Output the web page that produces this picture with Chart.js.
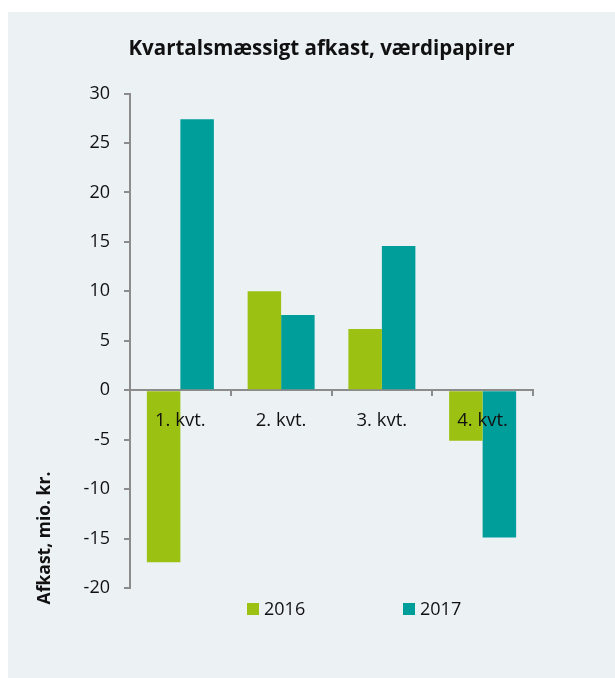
<!DOCTYPE html>
<html>
<head>
<meta charset="utf-8">
<script src="https://cdn.jsdelivr.net/npm/chart.js@4"></script>
<style>
    body { margin: 0; background: #ffffff; }
    #panel { position: absolute; left: 8px; top: 12px; width: 607px; height: 666px; background: #ecf1f4; }
</style>
</head>
<body>
<div id="panel"><canvas id="grafico" width="607" height="666"></canvas></div>
<script>
const kvartaler = ['1. kvt.', '2. kvt.', '3. kvt.', '4. kvt.'];
const afkast2016 = [-17.4, 10.0, 6.2, -5.1];
const afkast2017 = [27.4, 7.6, 14.6, -14.9];
const aar = ['2016', '2017'];

const gron = '#9bc112';
const turkis = '#009e9a';
const graa = '#8c8c8c';
const skrift = '"Open Sans"';

// y-aksens titel og forklaring tegnes selv, saa de kan placeres som i originalen
const ekstraTekst = {
    id: 'ekstraTekst',
    afterDraw(chart) {
        const ctx = chart.ctx;
        const area = chart.chartArea;
        ctx.save();
        ctx.fillStyle = '#111';
        ctx.font = 'bold 17.5px ' + skrift;
        ctx.textAlign = 'center';
        ctx.textBaseline = 'middle';
        ctx.translate(37, area.bottom - 50);
        ctx.rotate(-Math.PI / 2);
        ctx.fillText('Afkast, mio. kr.', 0, 0);
        ctx.restore();

        ctx.save();
        ctx.font = '18px ' + skrift;
        ctx.textBaseline = 'middle';
        const y = area.bottom + 21;
        chart.data.datasets.forEach((ds, i) => {
            const x = area.left + 117 + i * 156;
            ctx.fillStyle = ds.backgroundColor;
            ctx.fillRect(x, y - 6, 12, 12);
            ctx.fillStyle = '#111';
            ctx.fillText(ds.label, x + 17, y + 1);
        });
        ctx.restore();
    }
};

new Chart(document.getElementById('grafico').getContext('2d'), {
    type: 'bar',
    data: {
        labels: kvartaler,
        datasets: [{
            label: aar[0],
            data: afkast2016,
            backgroundColor: gron,
            categoryPercentage: 0.665,
            barPercentage: 1
        },
        {
            label: aar[1],
            data: afkast2017,
            backgroundColor: turkis,
            categoryPercentage: 0.665,
            barPercentage: 1
        }]
    },
    plugins: [ekstraTekst],
    options: {
        responsive: false,
        animation: false,
        layout: {
            padding: { left: 20, right: 0, top: 0, bottom: 90 }
        },
        plugins: {
            title: {
                display: true,
                text: 'Kvartalsmæssigt afkast, værdipapirer',
                color: '#111',
                font: { family: skrift, size: 20.5, weight: 'bold' },
                padding: { top: 24.5, bottom: 32.5 }
            },
            legend: { display: false },
            tooltip: { enabled: false }
        },
        scales: {
            x: {
                position: { y: 0 },
                grid: {
                    offset: true,
                    drawOnChartArea: false,
                    color: graa,
                    lineWidth: 2,
                    tickLength: 5
                },
                border: { color: graa, width: 2 },
                ticks: {
                    z: 1,
                    color: '#111',
                    padding: 14,
                    font: { family: skrift, size: 18.5 }
                }
            },
            y: {
                min: -20,
                max: 30,
                afterFit(scale) { scale.width = 102; },
                grid: {
                    drawOnChartArea: false,
                    color: graa,
                    lineWidth: 2,
                    tickLength: 6
                },
                border: { color: graa, width: 2 },
                ticks: {
                    stepSize: 5,
                    color: '#111',
                    padding: 14,
                    font: { family: skrift, size: 18 }
                }
            },
            hoejre: {
                type: 'linear',
                position: 'right',
                afterFit(scale) { scale.width = 82; },
                grid: { display: false },
                border: { display: false },
                ticks: { display: false }
            }
        }
    }
});
</script>
</body>
</html>
